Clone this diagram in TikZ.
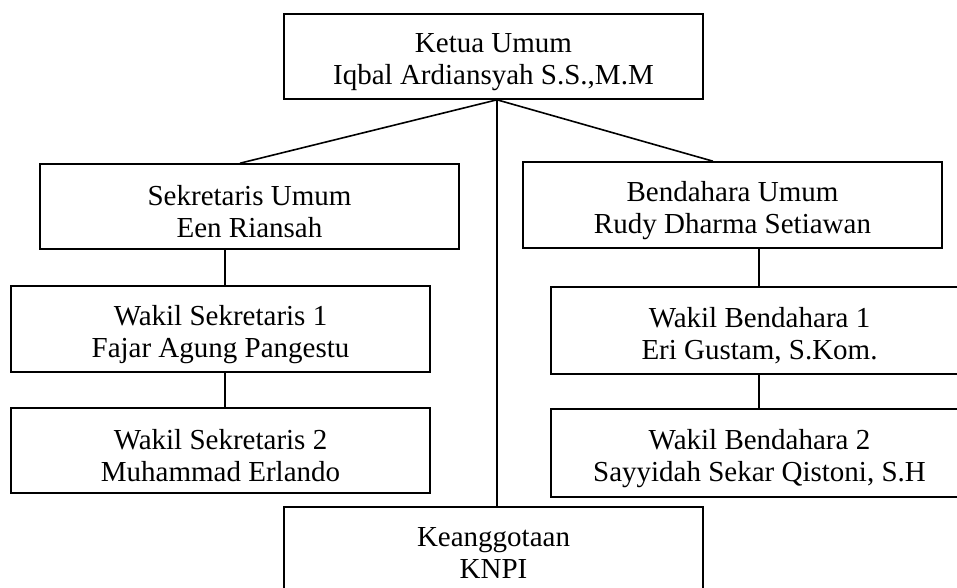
\documentclass[tikz,border=0pt]{standalone}
\usepackage{fontspec}
\setmainfont{Liberation Serif}
\usetikzlibrary{calc}
% strut that fixes line height/depth so every two-line box sets its text alike
\newcommand\boxstrut{\rule{0pt}{31pt}}
% box text: fixed 32pt line pitch, even when a line has descenders
\newcommand\chartfont{\fontsize{29}{32}\selectfont\lineskiplimit=-100pt\relax\lineskip=0pt\relax}
\begin{document}
\begin{tikzpicture}[x=1pt,y=-1pt,
  orgbox/.style={draw=black, line width=1.6pt, inner sep=0pt, align=center,
    font=\chartfont, minimum width=419pt, minimum height=85pt},
  link/.style={draw=black, line width=1.6pt}]
  \useasboundingbox (0,0) rectangle (957,587);
  \clip (0,0) rectangle (957,587);

  % chart boxes
  \node[orgbox] (ketua) at (493.5,56.5) {\boxstrut Ketua Umum\\\boxstrut Iqbal Ardiansyah S.S.,M.M};
  \node[orgbox] (sek) at (249.5,206.5) {\boxstrut Sekretaris Umum\\\boxstrut Een Riansah};
  \node[orgbox, minimum height=86pt] (bend) at (732.5,205) {\boxstrut Bendahara Umum\\\boxstrut Rudy Dharma Setiawan};
  \node[orgbox, minimum height=86pt] (ws1) at (220.5,329) {\boxstrut Wakil Sekretaris 1\\\boxstrut Fajar Agung Pangestu};
  \node[orgbox] (ws2) at (220.5,450.5) {\boxstrut Wakil Sekretaris 2\\\boxstrut Muhammad Erlando};
  \node[orgbox, minimum width=417pt, minimum height=87pt] (wb1) at (759.5,330.5) {\boxstrut Wakil Bendahara 1\\\boxstrut Eri Gustam, S.Kom.};
  \node[orgbox, minimum width=417pt, minimum height=88pt] (wb2) at (759.5,453) {\boxstrut Wakil Bendahara 2\\\boxstrut Sayyidah Sekar Qistoni, S.H};
  \node[orgbox] (keang) at (493.5,549.5) {\boxstrut Keanggotaan\\\boxstrut KNPI\rule[-6pt]{0pt}{0pt}};

  % branching point under the top box
  \coordinate (hub) at ($(ketua.south)+(3.5,0)$);

  % connectors
  \draw[link] (hub) -- ($(sek.north)+(-9.5,0)$);
  \draw[link] (hub) -- ($(bend.north)+(-19.5,0)$);
  \draw[link] (hub) -- (hub |- keang.north);
  \draw[link] ($(sek.south)+(-24.5,0)$) -- ($(ws1.north)+(4.5,0)$);
  \draw[link] ($(ws1.south)+(4.5,0)$) -- ($(ws2.north)+(4.5,0)$);
  \draw[link] ($(bend.south)+(26.5,0)$) -- ($(wb1.north)+(-0.5,0)$);
  \draw[link] ($(wb1.south)+(-0.5,0)$) -- ($(wb2.north)+(-0.5,0)$);
\end{tikzpicture}
\end{document}
